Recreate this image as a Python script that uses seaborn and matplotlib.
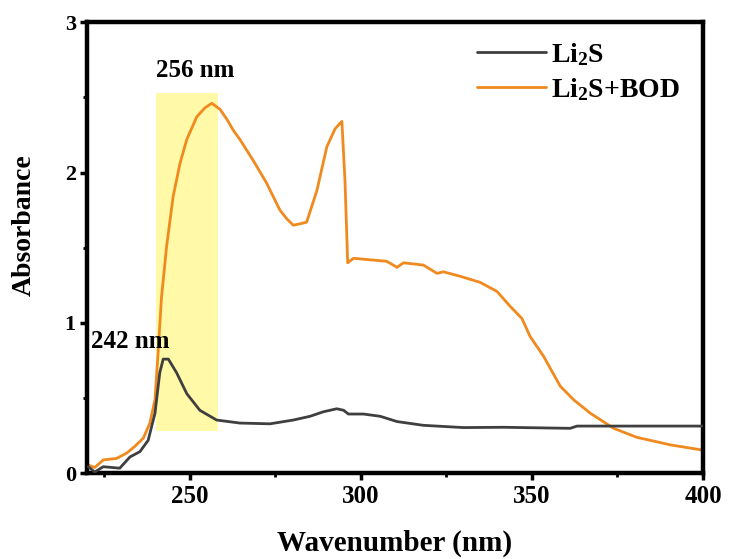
import matplotlib
matplotlib.use("Agg")
import matplotlib.pyplot as plt
import seaborn as sns
import pandas as pd

# ---- data ----
bod_x = [220.4, 222.3, 224.8, 228.7, 231.6, 234.0, 236.5, 238.4, 239.9, 240.8,
         241.8, 243.3, 245.2, 247.2, 249.2, 252.1, 254.5, 256.5, 258.9, 261.0,
         262.8, 264.7, 268.6, 272.5, 276.4, 278.5, 280.3, 282.5, 284.2, 287.2,
         290.1, 292.5, 294.5, 295.4, 296.2, 297.9, 302.7, 307.6, 310.6, 312.5,
         318.3, 322.3, 324.2, 329.1, 334.9, 339.8, 343.7, 347.1, 349.5, 353.4,
         358.3, 362.2, 367.1, 373.9, 380.7, 390.5, 400.0]
bod_y = [0.056, 0.04, 0.09, 0.10, 0.135, 0.18, 0.235, 0.335, 0.49, 0.80,
         1.17, 1.51, 1.84, 2.06, 2.22, 2.37, 2.43, 2.46, 2.42, 2.35,
         2.28, 2.22, 2.08, 1.93, 1.75, 1.69, 1.65, 1.66, 1.67, 1.88,
         2.17, 2.29, 2.34, 1.95, 1.40, 1.43, 1.42, 1.41, 1.37, 1.40,
         1.385, 1.33, 1.34, 1.31, 1.27, 1.21, 1.11, 1.03, 0.91, 0.78,
         0.58, 0.49, 0.40, 0.30, 0.24, 0.19, 0.155]

li2s_x = [220.4, 222.3, 224.8, 229.6, 232.6, 235.5, 237.9, 239.9, 241.3, 242.3,
          243.8, 246.2, 249.2, 253.0, 257.9, 264.7, 273.5, 280.3, 285.2, 289.1,
          293.0, 295.0, 296.4, 300.8, 305.7, 310.6, 318.3, 330.0, 341.7, 361.2,
          363.2, 380.7, 400.0]
li2s_y = [0.045, 0.01, 0.045, 0.035, 0.11, 0.145, 0.22, 0.40, 0.67, 0.76,
          0.76, 0.67, 0.53, 0.42, 0.355, 0.335, 0.33, 0.355, 0.38, 0.41,
          0.43, 0.42, 0.395, 0.395, 0.38, 0.345, 0.32, 0.305, 0.307, 0.30,
          0.315, 0.315, 0.315]

series_labels = ["Li$_2$S", "Li$_2$S+BOD"]
x_ticks = [250, 300, 350, 400]
y_ticks = [0, 1, 2, 3]
highlight_x = [240.2, 258.3]
highlight_y = [0.28, 2.53]
annotations = [("256 nm", 251.6, 2.68), ("242 nm", 221.1, 0.88)]

# ---- style ----
sns.set_style("ticks")
plt.rcParams["font.family"] = ["Liberation Serif", "DejaVu Serif"]
plt.rcParams["font.weight"] = "bold"
plt.rcParams["mathtext.default"] = "regular"
for key in ["text.color", "axes.labelcolor", "xtick.color", "ytick.color",
            "axes.edgecolor"]:
    plt.rcParams[key] = "black"

fig = plt.figure(figsize=(7.3, 5.59), dpi=100)
ax = fig.add_axes([0.119, 0.153, 0.844, 0.8076])

ax.axvspan(highlight_x[0], highlight_x[1],
           ymin=highlight_y[0] / 3, ymax=highlight_y[1] / 3,
           color="#FFF9A8", lw=0, zorder=0)

df_li = pd.DataFrame({"x": li2s_x, "y": li2s_y})
df_bod = pd.DataFrame({"x": bod_x, "y": bod_y})
sns.lineplot(data=df_li, x="x", y="y", ax=ax, color="#3f3f3f", lw=2.0,
             label=series_labels[0], sort=False, zorder=3)
sns.lineplot(data=df_bod, x="x", y="y", ax=ax, color="#F08A1E", lw=2.0,
             label=series_labels[1], sort=False, zorder=2)

ax.set_xlim(220, 400)
ax.set_ylim(0, 3)
ax.set_xticks(x_ticks)
ax.set_yticks(y_ticks)
ax.set_xticks([225, 275, 325, 375], minor=True)
ax.set_yticks([0.5, 1.5, 2.5], minor=True)
ax.tick_params(axis="both", which="major", direction="out", length=5, width=2.5,
               color="black", labelcolor="black", pad=3)
ax.tick_params(axis="both", which="minor", direction="out", length=3, width=2.0,
               color="black")
ax.tick_params(axis="x", labelsize=18)
ax.tick_params(axis="y", labelsize=16)
for lab in ax.get_xticklabels() + ax.get_yticklabels():
    lab.set_fontweight("bold")

for s in ax.spines.values():
    s.set_linewidth(3.2)
    s.set_color("black")
    s.set_visible(True)

ax.set_xlabel("Wavenumber (nm)", fontsize=21, fontweight="bold", color="black")
ax.set_ylabel("Absorbance", fontsize=20, fontweight="bold", color="black")
ax.xaxis.set_label_coords(0.5, -0.125)
ax.yaxis.set_label_coords(-0.081, 0.55)

for txt, xx, yy in annotations:
    ax.text(xx, yy, txt, fontsize=18, fontweight="bold", color="black",
            ha="center" if txt.startswith("256") else "left", va="center")

leg = ax.legend(loc="upper left", bbox_to_anchor=(0.633, 0.958), frameon=False,
                fontsize=20, handlelength=2.5, handletextpad=0.18,
                labelspacing=0.3, borderpad=0, borderaxespad=0)
for t in leg.get_texts():
    t.set_fontweight("bold")
    t.set_color("black")

fig.savefig("out.png", dpi=100)
